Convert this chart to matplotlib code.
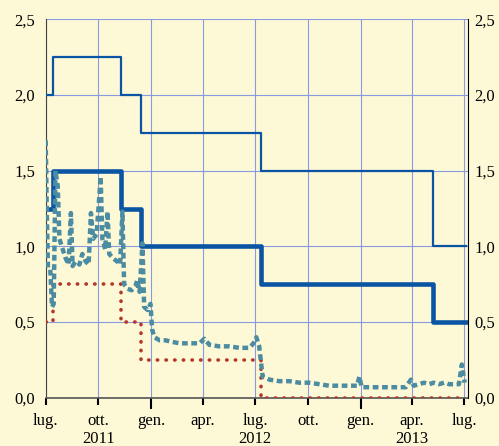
import matplotlib
matplotlib.use("Agg")
import matplotlib.pyplot as plt
import pandas as pd

# tassi BCE: date di variazione e livelli
step_dates = ["2011-07-01", "2011-07-13", "2011-11-09", "2011-12-14", "2012-07-11", "2013-05-08", "2013-07-05"]
marginal = [2.00, 2.25, 2.00, 1.75, 1.50, 1.00, 1.00]
main_refi = [1.25, 1.50, 1.25, 1.00, 0.75, 0.50, 0.50]
deposit = [0.50, 0.75, 0.50, 0.25, 0.00, 0.00, 0.00]

# EONIA
eonia_dates = ["2011-07-01", "2011-07-03", "2011-07-05", "2011-07-09", "2011-07-12", "2011-07-15",
               "2011-07-18", "2011-07-22", "2011-07-25", "2011-07-29", "2011-08-05", "2011-08-10",
               "2011-08-14", "2011-08-17", "2011-08-22", "2011-08-29", "2011-09-03", "2011-09-09",
               "2011-09-14", "2011-09-18", "2011-09-22", "2011-09-28", "2011-10-05", "2011-10-08",
               "2011-10-13", "2011-10-17", "2011-10-20", "2011-10-27", "2011-11-03", "2011-11-08",
               "2011-11-12", "2011-11-15", "2011-11-21", "2011-11-28", "2011-12-05", "2011-12-08",
               "2011-12-12", "2011-12-17", "2011-12-20", "2011-12-26", "2011-12-31", "2012-01-03",
               "2012-01-07", "2012-01-16", "2012-01-26", "2012-02-06", "2012-02-20", "2012-03-08",
               "2012-03-26", "2012-04-03", "2012-04-12", "2012-04-29", "2012-05-17", "2012-06-03",
               "2012-06-21", "2012-06-28", "2012-07-03", "2012-07-08", "2012-07-14", "2012-07-26",
               "2012-08-12", "2012-08-30", "2012-09-16", "2012-10-03", "2012-10-21", "2012-11-07",
               "2012-11-25", "2012-12-12", "2012-12-26", "2012-12-30", "2013-01-03", "2013-01-17",
               "2013-02-03", "2013-02-20", "2013-03-09", "2013-03-21", "2013-03-30", "2013-04-04",
               "2013-04-13", "2013-04-22", "2013-05-01", "2013-05-09", "2013-05-18", "2013-05-27",
               "2013-06-05", "2013-06-13", "2013-06-22", "2013-06-27", "2013-07-02"]
eonia_vals = [1.70, 1.20, 0.86, 0.85, 0.60, 0.62,
              1.50, 1.40, 1.05, 1.00, 0.92, 0.88,
              1.22, 0.87, 0.90, 0.88, 0.95, 0.90,
              0.88, 1.22, 1.05, 1.08, 1.46, 1.05,
              0.98, 1.23, 0.95, 0.92, 0.90, 0.88,
              1.23, 0.75, 0.72, 0.71, 0.74, 0.78,
              0.70, 1.02, 0.60, 0.58, 0.62, 0.45,
              0.40, 0.38, 0.38, 0.37, 0.36, 0.36,
              0.36, 0.39, 0.35, 0.34, 0.34, 0.33,
              0.33, 0.36, 0.40, 0.34, 0.14, 0.12,
              0.11, 0.11, 0.10, 0.10, 0.09, 0.08,
              0.08, 0.08, 0.08, 0.14, 0.07, 0.07,
              0.07, 0.07, 0.07, 0.07, 0.12, 0.08,
              0.09, 0.10, 0.09, 0.10, 0.09, 0.10,
              0.09, 0.09, 0.09, 0.22, 0.10]

tick_dates = ["2011-07-01", "2011-10-01", "2012-01-01", "2012-04-01", "2012-07-01",
              "2012-10-01", "2013-01-01", "2013-04-01", "2013-07-01"]
tick_labels = ["lug.", "ott.", "gen.", "apr.", "lug.", "ott.", "gen.", "apr.", "lug."]
year_labels = ["2011", "2012", "2013"]
year_pos = ["2011-10-01", "2012-07-01", "2013-04-01"]
y_ticks = [0, 0.5, 1.0, 1.5, 2.0, 2.5]
y_labels = ["0,0", "0,5", "1,0", "1,5", "2,0", "2,5"]

bg = "#fdf9d6"
plt.rcParams["font.family"] = ["Liberation Serif", "DejaVu Serif"]
plt.rcParams["font.size"] = 12

fig = plt.figure(figsize=(4.99, 4.46), dpi=100, facecolor=bg)
ax = fig.add_axes([0.0916, 0.108, 0.8465, 0.849], facecolor=bg)

sd = pd.to_datetime(step_dates)
ed = pd.to_datetime(eonia_dates)

ax.step(sd, marginal, where="post", color="#0a55a3", lw=1.6, zorder=3)
ax.step(sd, main_refi, where="post", color="#0a55a3", lw=3.3, zorder=3)
ax.step(sd, deposit, where="post", color="#b5362a", lw=2.6, linestyle=(0, (0.1, 2.3)),
        dash_capstyle="round", zorder=3)
ax.plot(ed, eonia_vals, color="#4c8ca2", lw=3.2, linestyle=(0, (1.3, 0.8)), zorder=4)

ax.set_xlim(pd.Timestamp("2011-07-01"), pd.Timestamp("2013-07-08"))
ax.set_ylim(0, 2.5)

ax.set_yticks(y_ticks)
ax.set_yticklabels(y_labels)
ax.tick_params(axis="y", length=0, pad=7.5)

# asse destro con gli stessi valori
ax2 = ax.twinx()
ax2.set_ylim(0, 2.5)
ax2.set_yticks(y_ticks)
ax2.set_yticklabels(y_labels)
ax2.tick_params(axis="y", length=0, pad=4.5)
for s in ["top", "left", "bottom"]:
    ax2.spines[s].set_visible(False)
ax2.spines["right"].set_color("black")

tpos = pd.to_datetime(tick_dates)
ax.set_xticks(tpos)
ax.set_xticklabels(tick_labels)
ax.tick_params(axis="x", length=5, width=1.5, pad=6, color="black")
for t, d in zip(ax.xaxis.get_major_ticks(), tpos):
    if d.month == 1:
        t.tick1line.set_markersize(8)

for y, d in zip(year_labels, pd.to_datetime(year_pos)):
    ax.text(d, -0.108, y, transform=ax.get_xaxis_transform(), ha="center", va="center")

ax.grid(True, color="#8a9ae2", lw=0.8)
ax.set_axisbelow(True)
ax.spines["top"].set_visible(False)
ax.spines["right"].set_visible(False)
ax.spines["left"].set_color("#444444")
ax.spines["bottom"].set_color("#555555")
ax.spines["bottom"].set_linewidth(1.2)

fig.savefig("out.png", dpi=100, facecolor=bg)
